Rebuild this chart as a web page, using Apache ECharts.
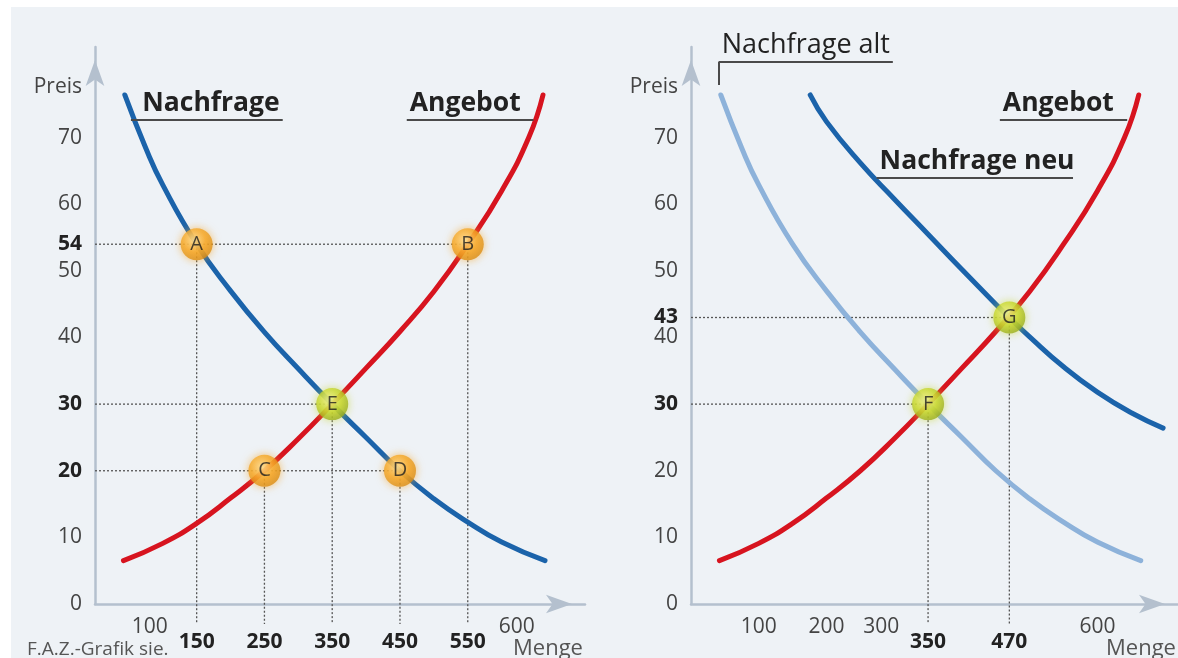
<!DOCTYPE html>
<html>
<head>
<meta charset="utf-8">
<title>Angebot und Nachfrage</title>
<script src="https://cdn.jsdelivr.net/npm/echarts@6/dist/echarts.min.js"></script>
<style>
  html, body { margin: 0; padding: 0; background: #fff; }
  #wrap { position: relative; width: 1178px; height: 658px; overflow: hidden; background: #fff; }
  #panel { position: absolute; left: 11px; top: 7px; right: 0; bottom: 0; background: #eef2f6; }
  #chart { position: absolute; left: 0; top: 0; width: 1178px; height: 658px; }
</style>
</head>
<body>
<div id="wrap"><div id="panel"></div><div id="chart"></div></div>
<script>
// ---- data ---------------------------------------------------------------
// demand curve (also "Nachfrage alt" on the right)
const demandQty   = [44, 75, 100, 150, 200, 250, 300, 350, 400, 450, 500, 550, 600, 664];
const demandPrice = [76.4, 68.4, 62.9, 54, 47, 40.8, 35.3, 30, 25, 20, 15.8, 12.3, 9.3, 6.5];

// supply curve (same on both panels)
const supplyQty   = [42, 100, 150, 200, 250, 300, 350, 400, 450, 500, 550, 600, 640, 661];
const supplyPrice = [6.5, 9.1, 12.1, 15.9, 20, 24.8, 30, 35.4, 40.9, 46.9, 54, 62, 70, 76.4];

// shifted demand curve ("Nachfrage neu")
const newDemandQty   = [176, 200, 250, 300, 350, 400, 450, 470, 500, 550, 600, 650, 697];
const newDemandPrice = [76.4, 72.4, 66.2, 60.8, 55.5, 50.2, 45, 43, 40.1, 35.6, 31.8, 28.7, 26.4];

// labelled points: [letter, quantity, price]
const leftPoints  = [['A', 150, 54], ['B', 550, 54], ['C', 250, 20], ['D', 450, 20], ['E', 350, 30]];
const rightPoints = [['F', 350, 30], ['G', 470, 43]];
const equilibriumLetters = ['E', 'F', 'G'];

// tick labels
const leftPriceTicks  = [0, 10, 20, 30, 40, 50, 54, 60, 70];
const leftPriceBold   = [20, 30, 54];
const leftQtyTicks    = [100, 600];
const leftQtyBold     = [150, 250, 350, 450, 550];
const rightPriceTicks = [0, 10, 20, 30, 40, 43, 50, 60, 70];
const rightPriceBold  = [30, 43];
const rightQtyTicks   = [100, 200, 300, 600];
const rightQtyBold    = [350, 470];

// ---- styling --------------------------------------------------------------
const FONT = '"Open Sans", "Noto Sans", sans-serif';
const AXIS_COLOR = '#b4c0ce';
const RED = '#d7141f';
const BLUE = '#1b63aa';
const LIGHT_BLUE = '#8db2da';
const Y_MAX = 83.6;

const pair = (xs, ys) => xs.map((x, i) => [x, ys[i]]);

function axisLine() {
  return {
    show: true,
    onZero: false,
    lineStyle: { color: AXIS_COLOR, width: 2.5 },
    symbol: ['none', 'arrow'],
    symbolSize: [14, 26],
    symbolOffset: [0, -13]
  };
}

function yAxis(gridIndex, ticks, bold) {
  return {
    type: 'value', gridIndex, min: 0, max: Y_MAX,
    axisLine: axisLine(),
    axisTick: { show: false },
    splitLine: { show: false },
    axisLabel: {
      customValues: ticks,
      margin: 13,
      formatter: v => (bold.includes(v) ? '{b|' + v + '}' : '{n|' + v + '}'),
      rich: {
        n: { fontFamily: FONT, fontSize: 21, color: '#444' },
        b: { fontFamily: FONT, fontSize: 21, fontWeight: 'bold', color: '#222' }
      }
    },
    name: 'Preis',
    nameLocation: 'end',
    nameGap: -40,
    nameMoveOverlap: false,
    nameTextStyle: {
      fontFamily: FONT, fontSize: 21, color: '#444',
      align: 'right', verticalAlign: 'middle', padding: [0, 13, 0, 0]
    }
  };
}

// light labels sit close to the axis, some nudged sideways
function xAxisLight(gridIndex, max, ticks, nudgeLeft, nudgeRight, nameGap) {
  const base = { fontFamily: FONT, fontSize: 21, color: '#444' };
  return {
    type: 'value', gridIndex, min: 0, max, position: 'bottom',
    axisLine: axisLine(),
    axisTick: { show: false },
    splitLine: { show: false },
    axisLabel: {
      customValues: ticks,
      margin: 13,
      formatter: v => nudgeLeft.includes(v) ? '{l|' + v + '}' : nudgeRight.includes(v) ? '{r|' + v + '}' : '{n|' + v + '}',
      rich: {
        n: base,
        l: Object.assign({ padding: [0, 26, 0, 0] }, base),
        r: Object.assign({ padding: [0, 0, 0, 30] }, base)
      }
    },
    name: 'Menge',
    nameLocation: 'end',
    nameGap,
    nameMoveOverlap: false,
    nameTextStyle: {
      fontFamily: FONT, fontSize: 22, color: '#555',
      align: 'left', verticalAlign: 'top', padding: [34, 0, 0, 0]
    }
  };
}

// bold labels one row lower, marking the dotted guides
function xAxisBold(gridIndex, max, ticks) {
  return {
    type: 'value', gridIndex, min: 0, max, position: 'bottom',
    axisLine: { show: false },
    axisTick: { show: false },
    splitLine: { show: false },
    axisLabel: {
      customValues: ticks,
      margin: 28,
      fontFamily: FONT, fontSize: 21, fontWeight: 'bold', color: '#222'
    }
  };
}

function curve(name, xi, yi, data, color, tag) {
  const s = {
    name, type: 'line', xAxisIndex: xi, yAxisIndex: yi,
    data, smooth: true,
    symbol: 'none', z: 3, silent: true,
    lineStyle: { color, width: 5, cap: 'round' }
  };
  if (tag) {
    const lines = tag.map(t => [
      { coord: t.from, label: t.text ? {
          show: true, formatter: t.text, position: t.pos, distance: 3,
          fontFamily: FONT, fontSize: t.size || 26.5, fontWeight: t.weight || 'bold', color: '#222'
        } : { show: false } },
      { coord: t.to }
    ]);
    s.markLine = {
      silent: true, symbol: ['none', 'none'], animation: false,
      lineStyle: { color: '#4a4a4a', width: 2, type: 'solid' },
      data: lines
    };
  }
  return s;
}

function guideSeries(xi, yi, points) {
  const out = [];
  const far = {};
  points.forEach(([, q, p]) => { far[p] = Math.max(far[p] || 0, q); });
  Object.keys(far).forEach(p => out.push([[0, +p], [far[p], +p]]));
  points.forEach(([, q, p]) => out.push([[q, p], [q, -3]]));
  return out.map(seg => ({
    type: 'line', xAxisIndex: xi, yAxisIndex: yi, data: seg,
    symbol: 'none', clip: false, silent: true, z: 1,
    lineStyle: { color: '#555', width: 1.3, type: [2, 2] }
  }));
}

function pointSeries(xi, yi, points) {
  const orange = {
    type: 'radial', x: 0.42, y: 0.38, r: 0.65,
    colorStops: [{ offset: 0, color: '#ffe39a' }, { offset: 0.55, color: '#f6a92a' }, { offset: 1, color: '#d98a12' }]
  };
  const green = {
    type: 'radial', x: 0.42, y: 0.38, r: 0.65,
    colorStops: [{ offset: 0, color: '#f6f49a' }, { offset: 0.55, color: '#c9d830' }, { offset: 1, color: '#97aa1c' }]
  };
  return {
    type: 'scatter', xAxisIndex: xi, yAxisIndex: yi, z: 5, silent: true,
    symbolSize: 32,
    data: points.map(([n, q, p]) => {
      const eq = equilibriumLetters.includes(n);
      return {
        name: n, value: [q, p],
        itemStyle: {
          color: eq ? green : orange,
          shadowBlur: 9,
          shadowColor: eq ? 'rgba(200,215,50,0.8)' : 'rgba(245,165,40,0.8)'
        }
      };
    }),
    label: {
      show: true, position: 'inside', formatter: p => p.name,
      fontFamily: FONT, fontSize: 20, color: '#1e1e1e'
    }
  };
}

const chart = echarts.init(document.getElementById('chart'));
chart.setOption({
  animation: false,
  backgroundColor: 'transparent',
  title: {
    text: 'F.A.Z.-Grafik sie.', left: 27, top: 640, padding: 0,
    textStyle: { fontFamily: FONT, fontSize: 19, fontWeight: 'normal', color: '#555' }
  },
  grid: [
    { left: 95, top: 47, width: 490, height: 557, outerBoundsMode: 'none' },
    { left: 691, top: 47, width: 487, height: 557, outerBoundsMode: 'none' }
  ],
  xAxis: [
    xAxisLight(0, 723, leftQtyTicks, [100], [600], -72),
    xAxisBold(0, 723, leftQtyBold),
    xAxisLight(1, 719, rightQtyTicks, [300], [], -72),
    xAxisBold(1, 719, rightQtyBold)
  ],
  yAxis: [
    yAxis(0, leftPriceTicks, leftPriceBold),
    yAxis(1, rightPriceTicks, rightPriceBold)
  ],
  series: [
    ...guideSeries(0, 0, leftPoints),
    ...guideSeries(2, 1, rightPoints),
    curve('Nachfrage', 0, 0, pair(demandQty, demandPrice), BLUE,
      [{ from: [53, 72.7], to: [277, 72.7], text: 'Nachfrage', pos: 'insideEndTop' }]),
    curve('Angebot', 0, 0, pair(supplyQty, supplyPrice), RED,
      [{ from: [460, 72.7], to: [647, 72.7], text: 'Angebot', pos: 'insideStartTop' }]),
    curve('Nachfrage alt', 2, 1, pair(demandQty, demandPrice), LIGHT_BLUE,
      [{ from: [41, 81.4], to: [298, 81.4], text: 'Nachfrage alt', pos: 'insideStartTop', weight: 'normal', size: 27 },
       { from: [41, 81.4], to: [41, 77.9] }]),
    curve('Nachfrage neu', 2, 1, pair(newDemandQty, newDemandPrice), BLUE,
      [{ from: [274, 64], to: [564, 64], text: 'Nachfrage neu', pos: 'insideStartTop' }]),
    curve('Angebot ', 2, 1, pair(supplyQty, supplyPrice), RED,
      [{ from: [456, 72.7], to: [644, 72.7], text: 'Angebot', pos: 'insideStartTop' }]),
    pointSeries(0, 0, leftPoints),
    pointSeries(2, 1, rightPoints)
  ]
});
</script>
</body>
</html>
